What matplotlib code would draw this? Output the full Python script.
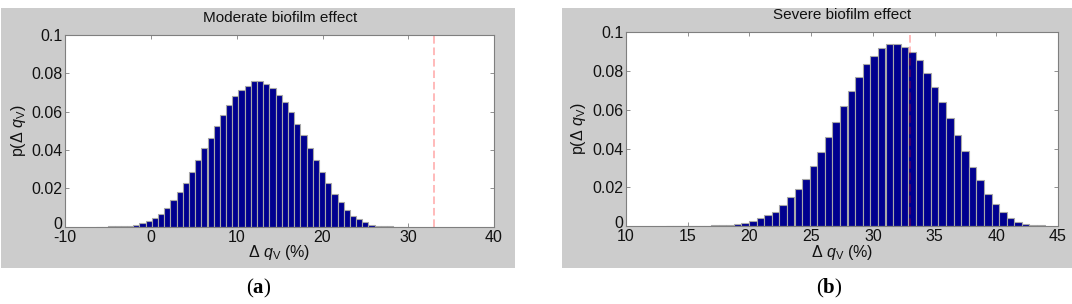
"""
Histograms of the relative flow change for two biofilm scenarios,
MATLAB-style panels on grey background.
"""

import matplotlib
matplotlib.use("Agg")
import matplotlib.pyplot as plt
from matplotlib.patches import Rectangle
from matplotlib.transforms import ScaledTranslation

plt.rcParams.update({
    "font.family":       "sans-serif",
    "font.sans-serif":   ["Liberation Sans", "DejaVu Sans"],
    "mathtext.fontset":  "custom",
    "mathtext.rm":       "Liberation Sans",
    "mathtext.it":       "Liberation Sans:italic",
    "mathtext.bf":       "Liberation Serif:bold",
})

# ── data ─────────────────────────────────────────────────────────────
centers_a = [
    -6.05, -5.33, -4.61, -3.88, -3.16, -2.44, -1.72, -0.99, -0.27, 0.45,
    1.17, 1.89, 2.61, 3.34, 4.06, 4.78, 5.50, 6.22, 6.95, 7.67,
    8.39, 9.11, 9.83, 10.56, 11.28, 12.00, 12.72, 13.44, 14.17, 14.89,
    15.61, 16.33, 17.05, 17.78, 18.50, 19.22, 19.94, 20.66, 21.39, 22.11,
    22.83, 23.55, 24.27, 25.00, 25.72, 26.44, 27.16, 27.88, 28.61, 29.33,
]
p_a = [
    0.0001, 0.0001, 0.0002, 0.0002, 0.0003, 0.0005, 0.0010, 0.0017, 0.0030, 0.0047,
    0.0068, 0.0097, 0.0139, 0.0179, 0.0230, 0.0283, 0.0346, 0.0409, 0.0464, 0.0525,
    0.0584, 0.0637, 0.0681, 0.0712, 0.0736, 0.0761, 0.0761, 0.0745, 0.0721, 0.0688,
    0.0650, 0.0596, 0.0536, 0.0477, 0.0412, 0.0348, 0.0285, 0.0226, 0.0172, 0.0127,
    0.0087, 0.0057, 0.0038, 0.0023, 0.0010, 0.0005, 0.0003, 0.0002, 0.0001, 0.0001,
]

centers_b = [
    13.52, 14.13, 14.75, 15.36, 15.98, 16.59, 17.20, 17.82, 18.43, 19.05,
    19.66, 20.27, 20.89, 21.50, 22.12, 22.73, 23.34, 23.96, 24.57, 25.19,
    25.80, 26.41, 27.03, 27.64, 28.26, 28.87, 29.48, 30.10, 30.71, 31.33,
    31.94, 32.55, 33.17, 33.78, 34.40, 35.01, 35.62, 36.24, 36.85, 37.47,
    38.08, 38.69, 39.31, 39.92, 40.54, 41.15, 41.76, 42.38, 42.99, 43.61,
]
p_b = [
    0.0000, 0.0001, 0.0001, 0.0001, 0.0002, 0.0002, 0.0003, 0.0004, 0.0005, 0.0009,
    0.0015, 0.0024, 0.0040, 0.0055, 0.0074, 0.0107, 0.0148, 0.0189, 0.0244, 0.0311,
    0.0384, 0.0460, 0.0539, 0.0621, 0.0699, 0.0768, 0.0836, 0.0878, 0.0919, 0.0938,
    0.0938, 0.0925, 0.0898, 0.0857, 0.0790, 0.0720, 0.0638, 0.0555, 0.0472, 0.0389,
    0.0306, 0.0236, 0.0167, 0.0115, 0.0071, 0.0043, 0.0022, 0.0012, 0.0005, 0.0003,
]

threshold = 33.0
titles = ["Moderate biofilm effect", "Severe biofilm effect"]
tags = ["a", "b"]
xticks_a = [-10, 0, 10, 20, 30, 40]
xticks_b = [10, 15, 20, 25, 30, 35, 40, 45]
yticks = [0, 0.02, 0.04, 0.06, 0.08, 0.1]
ytick_labels = ["0", "0.02", "0.04", "0.06", "0.08", "0.1"]

BAR_COL = "#00008F"
EDGE_COL = "#A8A8A8"
PANEL_BG = "#CCCCCC"
AX_COL = "#7F7F7F"
TXT_COL = "#111111"

W, H = 1072, 304
fig = plt.figure(figsize=(W / 100, H / 100), dpi=100)
fig.patch.set_facecolor("white")


def px(x0, y0, x1, y1):
    """pixel box (top-left origin) -> figure fraction [l, b, w, h]"""
    return [x0 / W, 1 - y1 / H, (x1 - x0) / W, (y1 - y0) / H]


# grey panel backgrounds
for x0, x1 in [(1, 515), (562, 1072)]:
    l, b, w, h = px(x0, 8, x1, 268)
    fig.add_artist(Rectangle((l, b), w, h, transform=fig.transFigure,
                             facecolor=PANEL_BG, edgecolor="none", zorder=0))

panels = [
    (px(65.3, 35.0, 494.0, 226.7), centers_a, p_a, (-10, 40), xticks_a, 259),
    (px(626.0, 32.3, 1058.0, 226.0), centers_b, p_b, (10, 45), xticks_b, 829),
]

for i, (rect, cx, p, xlim, xt, tag_x) in enumerate(panels):
    ax = fig.add_axes(rect)
    ax.set_facecolor("white")
    width = cx[1] - cx[0]
    ax.bar(cx, p, width=width, color=BAR_COL, edgecolor=EDGE_COL,
           linewidth=0.8, zorder=2)
    ax.axvline(threshold, color="red", alpha=0.35, lw=1.1,
               dashes=(5, 2.5), zorder=3)

    ax.set_xlim(*xlim)
    ax.set_ylim(0, 0.1)
    ax.set_xticks(xt)
    ax.set_xticklabels([str(v) for v in xt])
    ax.set_yticks(yticks)
    ax.set_yticklabels(ytick_labels)
    ax.tick_params(direction="in", top=True, right=True, length=3,
                   width=0.6, color=AX_COL, labelsize=11.5,
                   labelcolor=TXT_COL)
    ax.tick_params(axis="x", pad=2.5)
    ax.tick_params(axis="y", pad=2)
    for s in ax.spines.values():
        s.set_color(AX_COL)
        s.set_linewidth(0.8)

    # MATLAB puts the y "0" right on the corner; lift it a touch so it
    # does not sit on top of the first x label
    zero_lbl = ax.get_yticklabels()[0]
    zero_lbl.set_transform(zero_lbl.get_transform()
                           + ScaledTranslation(0, 4 / 100, fig.dpi_scale_trans))

    ax.text(0.5, 1.089, titles[i], transform=ax.transAxes,
            ha="center", va="center", fontsize=11, color=TXT_COL)
    ax.set_xlabel(r"Δ $q_{\mathrm{V}}$ (%)", fontsize=11.5, color=TXT_COL)
    ax.xaxis.set_label_coords(0.5, -0.135)
    ax.xaxis.label.set_va("center")
    ax.set_ylabel(r"p(Δ $q_{\mathrm{V}}$)", fontsize=11.5, color=TXT_COL)
    ax.yaxis.set_label_coords(-0.11, 0.5)
    ax.yaxis.label.set_va("center")

    fig.text(tag_x / W, 1 - 288 / H, r"($\mathbf{%s}$)" % tags[i],
             ha="center", va="center", fontsize=15,
             family="Liberation Serif", color="black")

fig.savefig("out.png", dpi=100, facecolor="white")
